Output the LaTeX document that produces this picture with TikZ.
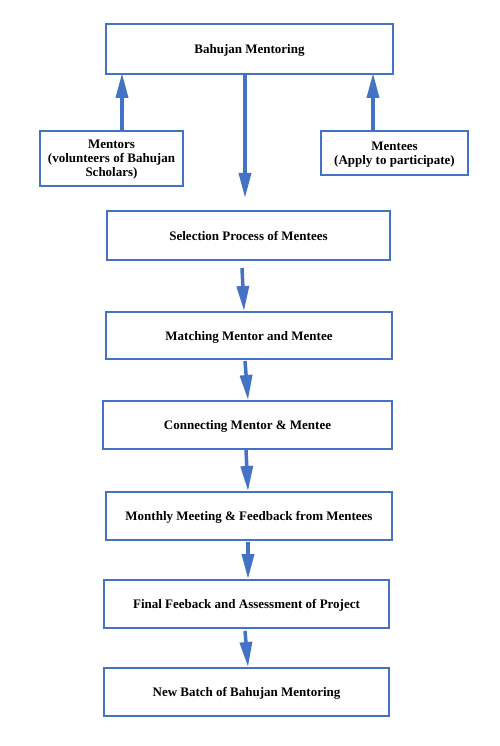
\documentclass[tikz,border=0pt]{standalone}
\usepackage{fontspec}
\setmainfont{Liberation Serif}
\usetikzlibrary{arrows.meta}
\definecolor{bblue}{HTML}{4472C4}
\tikzset{
  box/.style={draw=bblue, line width=2pt, fill=white, align=center, inner sep=2pt, text depth=0pt,
    font=\fontsize{13}{14.2}\selectfont\bfseries},
  arr/.style={draw=bblue, line width=3.5pt, -{Triangle[length=25pt,width=12pt]}}
}
\begin{document}
\begin{tikzpicture}[x=1pt,y=-1pt]
\useasboundingbox (0,0) rectangle (500,746);
\node[box, minimum width=287pt, minimum height=50pt] (top) at (249.5,49) {Bahujan Mentoring};
\node[box, minimum width=143pt, minimum height=55pt] (mentors) at (111.5,158.5) {Mentors\\(volunteers of Bahujan\\Scholars)};
\node[box, minimum width=147pt, minimum height=44pt] (mentees) at (394.5,153) {Mentees\\(Apply to participate)};
\node[box, minimum width=283pt, minimum height=49pt] (sel) at (248.5,235.5) {Selection Process of Mentees};
\node[box, minimum width=286pt, minimum height=47pt] (match) at (249,335.5) {Matching Mentor and Mentee};
\node[box, minimum width=289pt, minimum height=48pt] (conn) at (247.5,425) {Connecting Mentor \& Mentee};
\node[box, minimum width=286pt, minimum height=48pt] (month) at (249,516) {Monthly Meeting \& Feedback from Mentees};
\node[box, minimum width=285pt, minimum height=48pt] (final) at (246.5,604) {Final Feeback and Assessment of Project};
\node[box, minimum width=285pt, minimum height=48pt] (newb) at (246.5,692) {New Batch of Bahujan Mentoring};

\draw[arr] ([xshift=-4.5pt]top.south) -- ([xshift=-3.5pt,yshift=12pt]sel.north);
\draw[arr] ([xshift=10.5pt]mentors.north) -- ([xshift=-127.5pt,yshift=2pt]top.south);
\draw[arr] ([xshift=-21.5pt]mentees.north) -- ([xshift=123.5pt,yshift=2pt]top.south);
\draw[arr] ([xshift=-6.5pt,yshift=-7pt]sel.south) -- ([xshift=-5pt]match.north);
\draw[arr] ([xshift=-4pt,yshift=-1pt]match.south) -- ([xshift=0.5pt]conn.north);
\draw[arr] ([xshift=-1.5pt]conn.south) -- ([xshift=-1pt]month.north);
\draw[arr] ([xshift=-1pt,yshift=-1pt]month.south) -- ([xshift=1.5pt]final.north);
\draw[arr] ([xshift=-1.5pt,yshift=-2pt]final.south) -- ([xshift=1.5pt]newb.north);
\end{tikzpicture}
\end{document}
